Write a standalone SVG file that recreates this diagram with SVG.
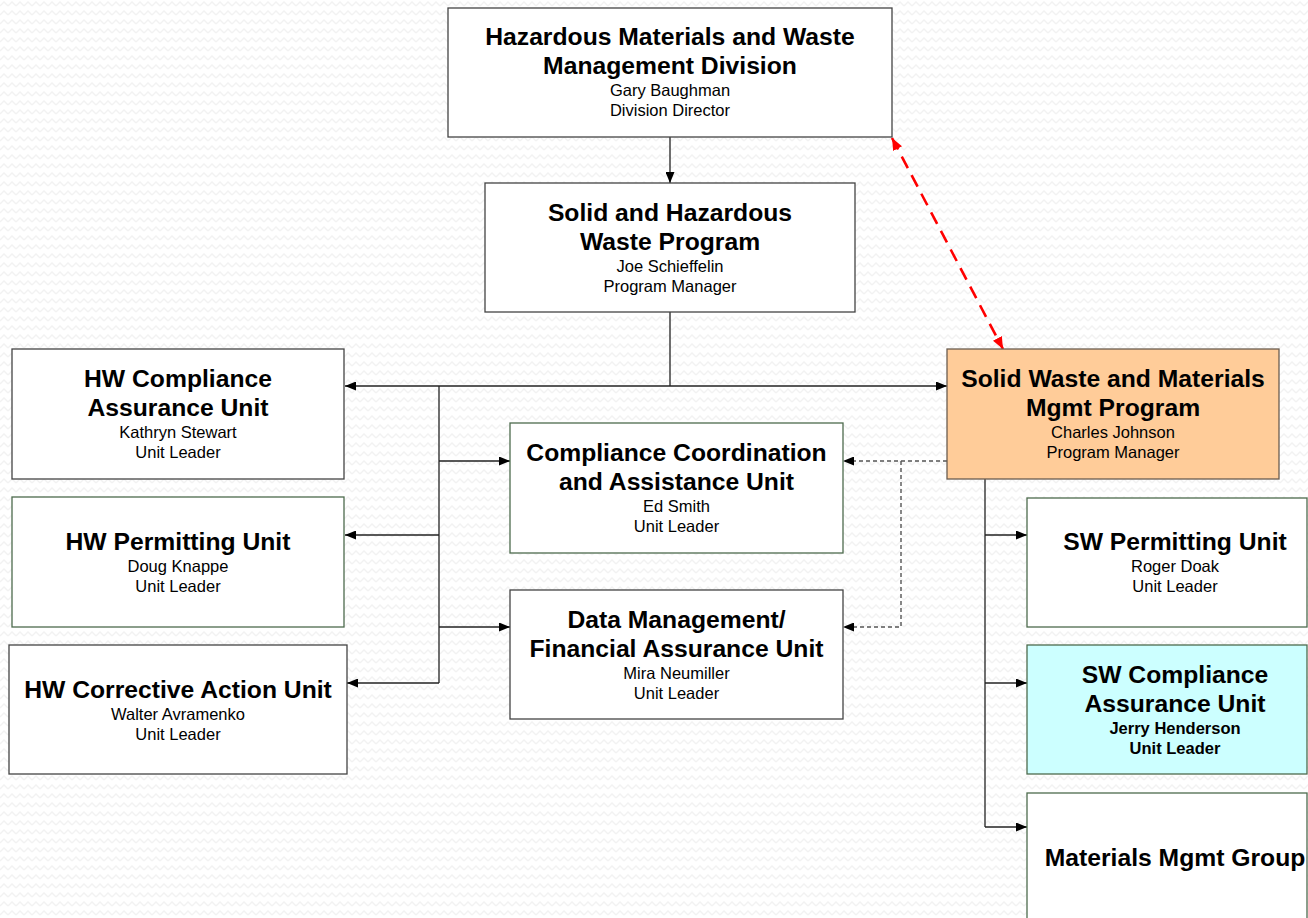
<svg xmlns="http://www.w3.org/2000/svg" width="1308" height="918" viewBox="0 0 1308 918">
<defs>
<pattern id="bg" width="8" height="9" patternUnits="userSpaceOnUse">
<path d="M0,6 L4,2 L8,6" fill="none" stroke="#f2f2f2" stroke-width="1.3"/>
</pattern>
<marker id="arr" viewBox="0 0 11 9" refX="11" refY="4.5" markerWidth="11" markerHeight="9" markerUnits="userSpaceOnUse" orient="auto-start-reverse">
<path d="M0,0 L11,4.5 L0,9 z" fill="#000"/>
</marker>
<marker id="rarr" viewBox="0 0 12 10" refX="12" refY="5" markerWidth="12" markerHeight="10" markerUnits="userSpaceOnUse" orient="auto-start-reverse">
<path d="M0,0 L12,5 L0,10 z" fill="#ff0000"/>
</marker>
</defs>
<style>
.box{fill:#fff;stroke:#444;stroke-width:1.3}
.gbox{fill:#fff;stroke:#4d6b4d;stroke-width:1.3}
.t{font-family:"Liberation Sans",Arial,sans-serif;font-size:24.7px;font-weight:bold;text-anchor:middle;fill:#000}
.s{font-family:"Liberation Sans",Arial,sans-serif;font-size:16.5px;text-anchor:middle;fill:#000}
.sb{font-family:"Liberation Sans",Arial,sans-serif;font-size:16.5px;font-weight:bold;text-anchor:middle;fill:#000}
.c{fill:none;stroke:#222;stroke-width:1.3}
.d{fill:none;stroke:#555;stroke-width:1.4;stroke-dasharray:4 3}
.r{fill:none;stroke:#ff0000;stroke-width:2.6;stroke-dasharray:13 8}
</style>
<rect width="1308" height="918" fill="#fff"/>
<rect width="1308" height="918" fill="url(#bg)"/>

<g id="connectors">
<path class="c" d="M670,137 L670,183" marker-end="url(#arr)"/>
<path class="c" d="M670,312 L670,386"/>
<path class="c" d="M345,386 L947,386" marker-start="url(#arr)" marker-end="url(#arr)"/>
<path class="c" d="M439,386 L439,683"/>
<path class="c" d="M439,461 L510,461" marker-end="url(#arr)"/>
<path class="c" d="M439,535 L345,535" marker-end="url(#arr)"/>
<path class="c" d="M439,627 L510,627" marker-end="url(#arr)"/>
<path class="c" d="M439,683 L347,683" marker-end="url(#arr)"/>
<path class="c" d="M985,479 L985,827"/>
<path class="c" d="M985,535 L1027,535" marker-end="url(#arr)"/>
<path class="c" d="M985,683 L1027,683" marker-end="url(#arr)"/>
<path class="c" d="M985,827 L1027,827" marker-end="url(#arr)"/>
<path class="d" d="M947,461 L843,461" marker-end="url(#arr)"/>
<path class="d" d="M901,461 L901,627 L843,627" marker-end="url(#arr)"/>
<path class="r" d="M892,138 L1003,349" marker-start="url(#rarr)" marker-end="url(#rarr)"/>
</g>

<g id="division">
<rect class="box" x="448" y="8" width="444" height="129"/>
<text class="t" x="670" y="45">Hazardous Materials and Waste</text>
<text class="t" x="670" y="74">Management Division</text>
<text class="s" x="670" y="96">Gary Baughman</text>
<text class="s" x="670" y="116">Division Director</text>
</g>

<g id="shw-program">
<rect class="box" x="485" y="183" width="370" height="129"/>
<text class="t" x="670" y="221">Solid and Hazardous</text>
<text class="t" x="670" y="250">Waste Program</text>
<text class="s" x="670" y="272">Joe Schieffelin</text>
<text class="s" x="670" y="292">Program Manager</text>
</g>

<g id="hw-compliance">
<rect class="box" x="12" y="349" width="332" height="130"/>
<text class="t" x="178" y="387">HW Compliance</text>
<text class="t" x="178" y="416">Assurance Unit</text>
<text class="s" x="178" y="438">Kathryn Stewart</text>
<text class="s" x="178" y="458">Unit Leader</text>
</g>

<g id="hw-permitting">
<rect class="gbox" x="12" y="497" width="332" height="130"/>
<text class="t" x="178" y="550">HW Permitting Unit</text>
<text class="s" x="178" y="572">Doug Knappe</text>
<text class="s" x="178" y="592">Unit Leader</text>
</g>

<g id="hw-corrective">
<rect class="box" x="9" y="645" width="338" height="129"/>
<text class="t" x="178" y="698">HW Corrective Action Unit</text>
<text class="s" x="178" y="720">Walter Avramenko</text>
<text class="s" x="178" y="740">Unit Leader</text>
</g>

<g id="compliance-coordination">
<rect class="gbox" x="510" y="423" width="333" height="130"/>
<text class="t" x="676.5" y="461">Compliance Coordination</text>
<text class="t" x="676.5" y="490">and Assistance Unit</text>
<text class="s" x="676.5" y="512">Ed Smith</text>
<text class="s" x="676.5" y="532">Unit Leader</text>
</g>

<g id="data-management">
<rect class="box" x="510" y="590" width="333" height="129"/>
<text class="t" x="676.5" y="628">Data Management/</text>
<text class="t" x="676.5" y="657">Financial Assurance Unit</text>
<text class="s" x="676.5" y="679">Mira Neumiller</text>
<text class="s" x="676.5" y="699">Unit Leader</text>
</g>

<g id="sw-program">
<rect x="947" y="349" width="332" height="130" fill="#ffcc99" stroke="#6b5d50" stroke-width="1.3"/>
<text class="t" x="1113" y="387">Solid Waste and Materials</text>
<text class="t" x="1113" y="416">Mgmt Program</text>
<text class="s" x="1113" y="438">Charles Johnson</text>
<text class="s" x="1113" y="458">Program Manager</text>
</g>

<g id="sw-permitting">
<rect class="gbox" x="1027" y="498" width="280" height="129"/>
<text class="t" x="1175" y="550">SW Permitting Unit</text>
<text class="s" x="1175" y="572">Roger Doak</text>
<text class="s" x="1175" y="592">Unit Leader</text>
</g>

<g id="sw-compliance">
<rect x="1027" y="645" width="280" height="129" fill="#ccffff" stroke="#4d6b4d" stroke-width="1.3"/>
<text class="t" x="1175" y="683">SW Compliance</text>
<text class="t" x="1175" y="712">Assurance Unit</text>
<text class="sb" x="1175" y="734">Jerry Henderson</text>
<text class="sb" x="1175" y="754">Unit Leader</text>
</g>

<g id="materials-mgmt">
<rect class="gbox" x="1027" y="793" width="280" height="135"/>
<text class="t" x="1175" y="866">Materials Mgmt Group</text>
</g>
</svg>
